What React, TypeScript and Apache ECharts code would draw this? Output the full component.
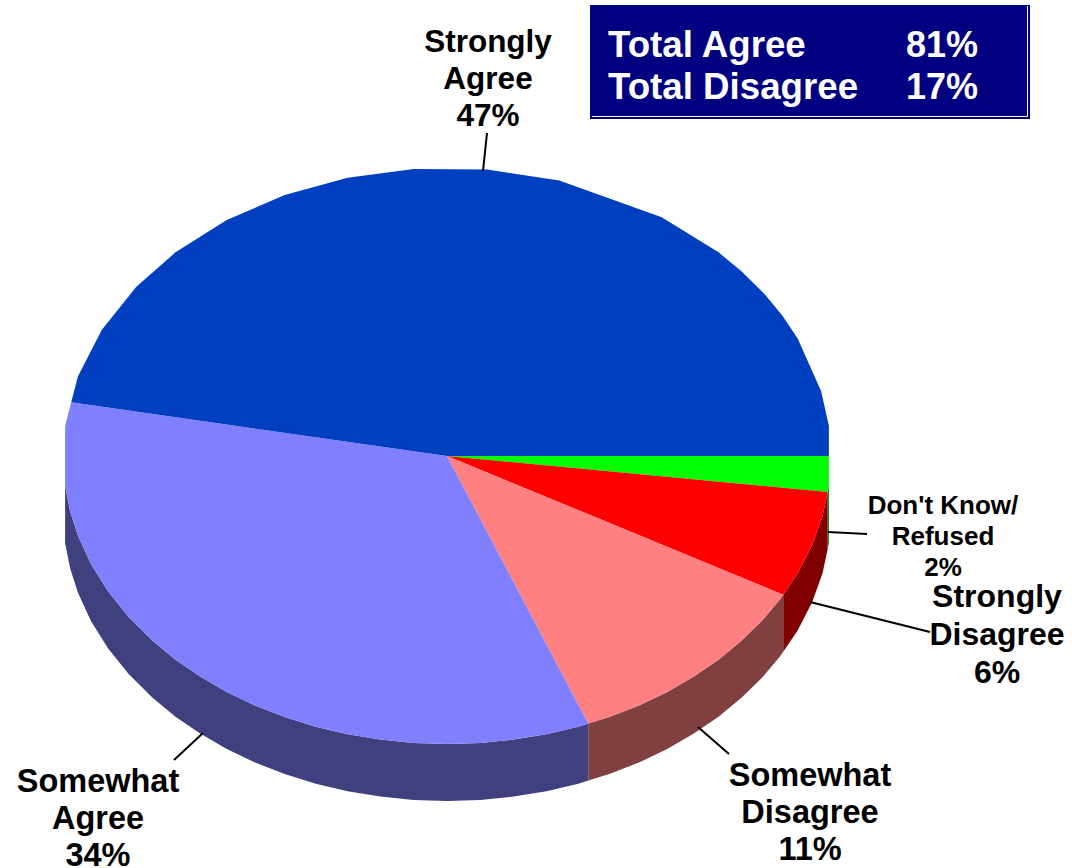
import React, { useEffect, useRef } from "react";
import * as echarts from "echarts";

// Survey responses, in clockwise order from the three o'clock position.
const categories = ["Don't Know/\nRefused", "Strongly\nDisagree", "Somewhat\nDisagree", "Somewhat\nAgree", "Strongly\nAgree"];
const shares = [2, 6, 11, 34, 47];
const totalNames = ["Total Agree", "Total Disagree"];
const totalShares = [81, 17];

const topColors = ["#00FF00", "#FF0000", "#FF8080", "#8080FF", "#0040C0"];
const sideColors = ["#008000", "#800000", "#804040", "#40407F", "#002060"];

// Tilted disc geometry, in pixels.
const CX = 447;
const CY = 456;
const RX = 384;
const RY = 288;
const DEPTH = 57;

// Angles of the corners of the faceted rim outline.
const rimCorners = [
  6, 12, 18, 24, 30, 35, 40, 45, 50, 55, 60, 65, 70, 75, 80, 85, 90, 95, 100, 105, 110, 115, 120, 125, 130, 135,
  140, 146, 152, 158, 164, 169, 174, 186, 196, 206, 216, 225, 235, 245, 255, 265, 276, 287, 304, 315, 320, 326,
  331, 336, 347, 354,
];

const FONT = '"Liberation Sans", Arial, Helvetica, sans-serif';

// Label centres, font sizes and leader lines per slice.
const labelPlacement = [
  { x: 943, y: 536, size: 26, lineHeight: 31, leader: [828, 532, 867, 534] },
  { x: 997, y: 634, size: 32, lineHeight: 38, leader: [810, 602, 930, 632] },
  { x: 810, y: 812, size: 32.5, lineHeight: 37, leader: [698, 727, 729, 754] },
  { x: 98, y: 818, size: 32.5, lineHeight: 37, leader: [174, 760, 203, 733] },
  { x: 488, y: 78, size: 31.5, lineHeight: 37, leader: [487, 133, 483, 171] },
];

const total = shares.reduce((a, b) => a + b, 0);

function sliceAngles(index: number): [number, number] {
  let before = 0;
  for (let i = 0; i < index; i++) before += shares[i];
  return [(before / total) * 360, ((before + shares[index]) / total) * 360];
}

function corner(deg: number, drop: number): number[] {
  const t = (deg * Math.PI) / 180;
  return [CX + RX * Math.cos(t), CY + RY * Math.sin(t) + drop];
}

// Point on the faceted rim at a given angle, between its two nearest corners.
function onRim(deg: number, drop = 0): number[] {
  const ring = [rimCorners[rimCorners.length - 1] - 360, ...rimCorners, rimCorners[0] + 360];
  let i = 0;
  while (i < ring.length - 2 && ring[i + 1] <= deg) i++;
  const f = (deg - ring[i]) / (ring[i + 1] - ring[i]);
  const p = corner(ring[i], drop);
  const q = corner(ring[i + 1], drop);
  return [p[0] + (q[0] - p[0]) * f, p[1] + (q[1] - p[1]) * f];
}

function arcPoints(from: number, to: number, drop = 0): number[][] {
  const between = rimCorners.filter((d) => d > from && d < to).map((d) => corner(d, drop));
  return [onRim(from, drop), ...between, onRim(to, drop)];
}

function renderSide(params: any) {
  const [a, b] = sliceAngles(params.dataIndex);
  const to = Math.min(b, 180);
  if (a >= 180) return { type: "group", children: [] };
  const points = [...arcPoints(a, to), ...arcPoints(a, to, DEPTH).reverse()];
  return { type: "polygon", shape: { points }, style: { fill: sideColors[params.dataIndex] } };
}

function renderTop(params: any) {
  const [a, b] = sliceAngles(params.dataIndex);
  const points = [[CX, CY], ...arcPoints(a, b)];
  return { type: "polygon", shape: { points }, style: { fill: topColors[params.dataIndex] } };
}

export default function App() {
  const ref = useRef<HTMLDivElement>(null);

  useEffect(() => {
    if (!ref.current) return;
    const chart = echarts.init(ref.current, undefined, { renderer: "svg" });

    const leaders = labelPlacement.map((p) => ({
      type: "line",
      shape: { x1: p.leader[0], y1: p.leader[1], x2: p.leader[2], y2: p.leader[3] },
      style: { stroke: "#000000", lineWidth: 2 },
      z: 5,
    }));
    const labels = labelPlacement.map((p, i) => ({
      type: "text",
      x: p.x,
      y: p.y,
      style: {
        text: `${categories[i]}\n${shares[i]}%`,
        align: "center",
        verticalAlign: "middle",
        lineHeight: p.lineHeight,
        fill: "#000000",
        font: `bold ${p.size}px ${FONT}`,
      },
      z: 6,
    }));
    const totals = totalNames.flatMap((name, i) => [
      {
        type: "text",
        x: 608,
        y: 44 + i * 42,
        style: { text: name, align: "left", verticalAlign: "middle", fill: "#FFFFFF", font: `bold 36.7px ${FONT}` },
        z: 8,
      },
      {
        type: "text",
        x: 978,
        y: 44 + i * 42,
        style: { text: `${totalShares[i]}%`, align: "right", verticalAlign: "middle", fill: "#FFFFFF", font: `bold 36px ${FONT}` },
        z: 8,
      },
    ]);

    chart.setOption({
      animation: false,
      backgroundColor: "#FFFFFF",
      series: [
        {
          type: "custom",
          name: "side",
          coordinateSystem: "none",
          silent: true,
          z: 1,
          data: shares,
          renderItem: renderSide,
        },
        {
          type: "custom",
          name: "top",
          coordinateSystem: "none",
          silent: true,
          z: 2,
          data: shares,
          renderItem: renderTop,
        },
      ],
      graphic: [
        ...leaders,
        ...labels,
        { type: "rect", shape: { x: 590, y: 5, width: 440, height: 114 }, style: { fill: "#000080" }, z: 7 },
        {
          type: "polyline",
          shape: { points: [[592, 116.5], [1027.5, 116.5], [1027.5, 6]] },
          style: { stroke: "#FFFFFF", lineWidth: 1, fill: "none" },
          z: 8,
        },
        ...totals,
      ],
    });

    return () => chart.dispose();
  }, []);

  return <div ref={ref} style={{ position: "absolute", left: 0, top: 0, width: 1081, height: 868 }} />;
}
